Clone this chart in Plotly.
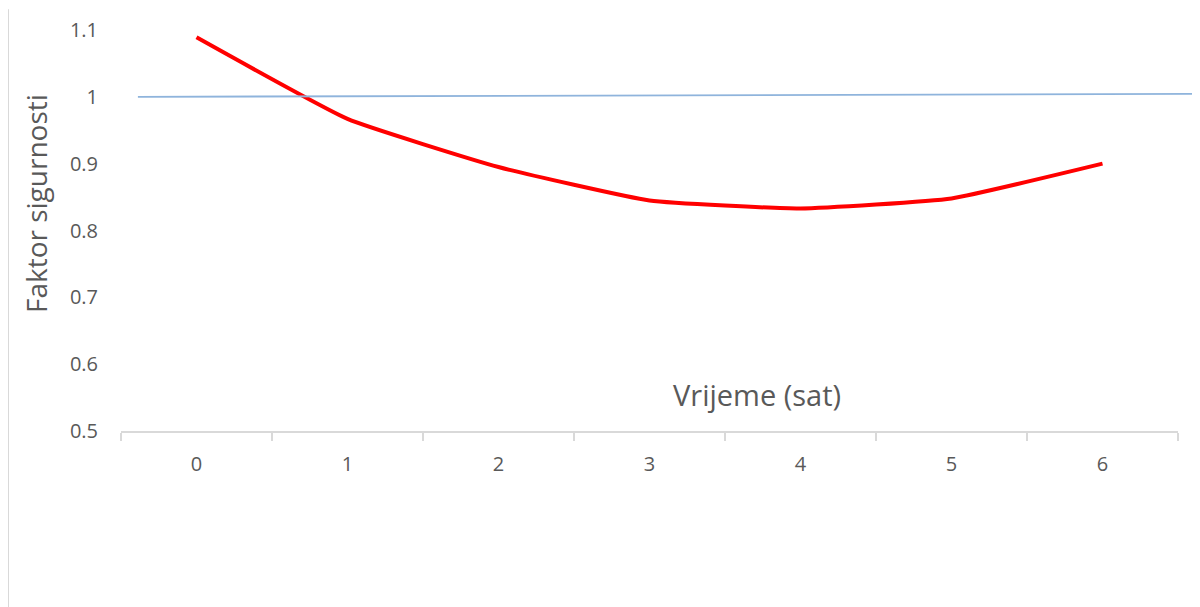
import plotly.graph_objects as go

hours = ["0", "1", "2", "3", "4", "5", "6"]
safety_factor = [1.089, 0.967, 0.895, 0.845, 0.833, 0.848, 0.9]
reference_level = [1.0, 1.0045]
y_ticks = [0.5, 0.6, 0.7, 0.8, 0.9, 1, 1.1]
y_tick_labels = ["0.5", "0.6", "0.7", "0.8", "0.9", "1", "1.1"]

FONT = "Open Sans, Lato, sans-serif"
GRAY = "#595959"

fig = go.Figure()
fig.add_trace(go.Scatter(
    x=hours, y=safety_factor, mode="lines",
    line=dict(color="#ff0000", width=4, shape="spline", smoothing=0.4),
    showlegend=False, hoverinfo="x+y"))

# reference line at FS = 1 (extends to the right edge)
fig.add_shape(type="line", xref="paper", yref="y",
              x0=0.016, x1=1.021, y0=reference_level[0], y1=reference_level[1],
              line=dict(color="#8fb4dc", width=1.8), layer="above")

# left border line
fig.add_shape(type="line", xref="paper", yref="paper",
              x0=-0.1069, x1=-0.1069, y0=-0.439, y1=1.052,
              line=dict(color="#d9d9d9", width=2))

fig.update_layout(
    width=1192, height=599,
    margin=dict(l=113, r=22, t=22, b=176, autoexpand=False),
    paper_bgcolor="white", plot_bgcolor="white",
    font=dict(family=FONT, color=GRAY, size=20),
    xaxis=dict(type="category", range=[-0.5, 6.5],
               showline=True, linecolor="#d9d9d9", linewidth=2,
               ticks="outside", tickson="boundaries", ticklen=8,
               tickcolor="#d9d9d9", tickwidth=2,
               showgrid=False, zeroline=False,
               ticklabelstandoff=14,
               tickfont=dict(size=20, color=GRAY)),
    yaxis=dict(range=[0.5, 1.1], tickvals=y_ticks, ticktext=y_tick_labels,
               showline=False, showgrid=False, zeroline=False, ticks="",
               ticklabelstandoff=22,
               tickfont=dict(size=20, color=GRAY)),
    annotations=[
        dict(text="Vrijeme (sat)", xref="paper", yref="paper",
             x=0.6017, y=0.0898, xanchor="center", yanchor="middle",
             showarrow=False, font=dict(size=29, color=GRAY, family=FONT)),
        dict(text="Faktor sigurnosti", xref="paper", yref="paper",
             x=-0.0804, y=0.566, xanchor="center", yanchor="middle",
             textangle=-90, showarrow=False,
             font=dict(size=28, color=GRAY, family=FONT)),
    ],
)

fig.write_html("out.html")
